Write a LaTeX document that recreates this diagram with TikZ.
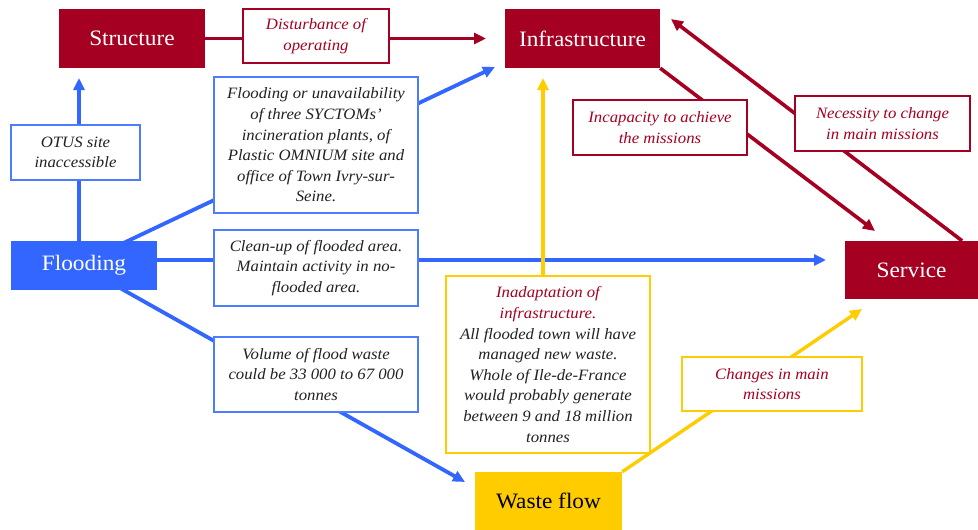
\documentclass[tikz,border=0pt]{standalone}
\usepackage{fontspec}
\setmainfont{Liberation Serif}[FakeStretch=1.06]
\usetikzlibrary{arrows.meta,calc}

\definecolor{wine}{HTML}{A50021}
\definecolor{floodblue}{HTML}{3366FF}
\definecolor{boxblue}{HTML}{4D7CFF}
\definecolor{gold}{HTML}{FFCC00}
\definecolor{inktext}{HTML}{222222}

\pgfdeclarelayer{bg}
\pgfsetlayers{bg,main}

\tikzset{
  mainbox/.style={inner sep=0pt, font=\fontsize{22}{25}\selectfont},
  labbox/.style={draw, fill=white, line width=1.2pt, align=center, inner sep=0pt,
    font=\fontsize{15.8}{20.6}\selectfont\itshape},
  bluelab/.style={labbox, draw=boxblue, text=inktext},
  redlab/.style={labbox, draw=wine, text=wine},
  goldlab/.style={labbox, draw=gold, text=inktext},
  bluearrow/.style={draw=floodblue, line width=3.8pt, -{Triangle[length=12pt,width=11pt]}},
  redarrow/.style={draw=wine, line width=3.6pt, -{Triangle[length=12pt,width=11pt]}},
  goldarrow/.style={draw=gold, line width=3.4pt, -{Triangle[length=12pt,width=11pt]}},
}

\begin{document}
\begin{tikzpicture}[x=1pt, y=-1pt]
\useasboundingbox (0,0) rectangle (978,530);

% main elements
\node[mainbox, fill=wine, text=white, minimum width=146pt, minimum height=59pt] (structure) at (132,38.5) {Structure};
\node[mainbox, fill=wine, text=white, minimum width=155pt, minimum height=59pt] (infra) at (582.5,38.5) {Infrastructure};
\node[mainbox, fill=floodblue, text=white, minimum width=146pt, minimum height=49pt] (flood) at (84,265.5) {Flooding};
\node[mainbox, fill=wine, text=white, minimum width=133pt, minimum height=58pt] (service) at (911.5,270) {Service};
\node[mainbox, fill=gold, text=black, minimum width=147pt, minimum height=58pt] (waste) at (548.5,501) {Waste flow};

% connector labels
\node[redlab, minimum width=146pt, minimum height=54pt] (disturb) at (316,36) {Disturbance of\\operating};
\node[bluelab, minimum width=129pt, minimum height=55pt] (otus) at (75.5,152.5) {OTUS site\\inaccessible};
\node[bluelab, minimum width=204pt, minimum height=136pt] (unavail) at (316,145) {Flooding or unavailability\\of three SYCTOMs’\\incineration plants, of\\Plastic OMNIUM site and\\office of Town Ivry-sur-\\Seine.};
\node[bluelab, minimum width=204pt, minimum height=76pt] (cleanup) at (316,268) {Clean-up of flooded area.\\Maintain activity in no-\\flooded area.};
\node[bluelab, minimum width=204pt, minimum height=75pt] (volume) at (316,374.5) {Volume of flood waste\\could be 33 000 to 67 000\\tonnes};
\node[goldlab, minimum width=204pt, minimum height=177pt] (inadapt) at (548,364.5) {\textcolor{wine}{Inadaptation of}\\\textcolor{wine}{infrastructure.}\\All flooded town will have\\managed new waste.\\Whole of Ile-de-France\\would probably generate\\between 9 and 18 million\\tonnes};
\node[goldlab, text=wine, minimum width=180pt, minimum height=54pt] (changes) at (772,384) {Changes in main\\missions};
\node[redlab, minimum width=174pt, minimum height=55pt] (incap) at (660,127.5) {Incapacity to achieve\\the missions};
\node[redlab, minimum width=175pt, minimum height=55pt] (necess) at (882.5,123.5) {Necessity to change\\in main missions};

% free arrow ends
\coordinate (tipStruct) at (79,78);
\coordinate (tipInfraB) at (495,67);
\coordinate (tipServB) at (826,260);
\coordinate (tipWaste) at (465,482);
\coordinate (tipInfraR) at (486,38.5);
\coordinate (tipServR) at (875,231);
\coordinate (tipInfraS) at (671,19);
\coordinate (tipInfraY) at (543,78);
\coordinate (tipServY) at (862,309);

% white page and connectors, underneath the boxes
\begin{pgfonlayer}{bg}
\fill[white] (0,0) rectangle (978,530);
\draw[bluearrow] (flood.north -| tipStruct) -- (tipStruct);
\draw[bluearrow] ($(flood.center)+(-8,0)$) -- (tipInfraB);
\draw[bluearrow] (flood.east |- tipServB) -- (tipServB);
\draw[bluearrow] ($(flood.center)+(-4,0)$) -- (tipWaste);
\draw[redarrow] (structure) -- (tipInfraR);
\draw[redarrow] (infra.south east) -- (tipServR);
\draw[redarrow] (service.30) -- (tipInfraS);
\draw[goldarrow] (inadapt.north -| tipInfraY) -- (tipInfraY);
\draw[goldarrow] (waste.north east) -- (tipServY);
\end{pgfonlayer}
\end{tikzpicture}
\end{document}
